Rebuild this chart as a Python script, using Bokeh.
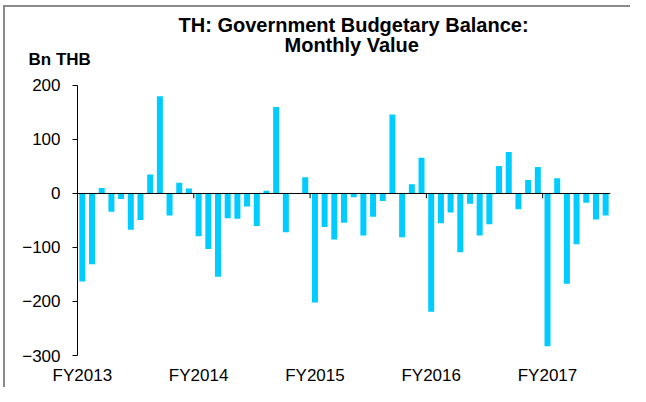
import numpy as np
import pandas as pd
from bokeh.plotting import figure
from bokeh.layouts import column
from bokeh.models import Range1d, FixedTicker, Span, Title
from bokeh.embed import file_html
from bokeh.resources import INLINE

# Monthly periods (Thai fiscal years start in October)
months = pd.date_range("2012-10-01", "2017-04-01", freq="MS")

# Government budgetary balance, Bn THB
balance = [-163, -131, 10, -34, -10, -67, -49, 35, 180, -41, 20, 9,
           -79, -103, -154, -46, -47, -24, -60, 5, 160, -72, 0, 30,
           -202, -62, -85, -54, -7, -78, -43, -14, 146, -81, 17, 66,
           -219, -55, -35, -109, -19, -78, -57, 51, 77, -29, 25, 49,
           -283, 28, -167, -94, -17, -48, -41]

fy_labels = ["FY2013", "FY2014", "FY2015", "FY2016", "FY2017"]
y_ticks = [200, 100, 0, -100, -200, -300]
y_min, y_max = -300, 200

title_line1 = "TH: Government Budgetary Balance:"
title_line2 = "Monthly Value"
unit_label = "Bn THB"

idx = np.arange(len(months))
fy_start = idx[months.month == 10]

FONT = "Liberation Sans"

# the frame reaches a little above the top tick so the titles can sit close to it
p = figure(width=625, height=380, output_backend="svg", toolbar_location=None,
           x_range=Range1d(0, len(months)), y_range=Range1d(y_min, 231.4),
           min_border_left=72, min_border_right=20, min_border_top=61,
           min_border_bottom=31)
p.outline_line_color = None
p.xgrid.visible = False
p.ygrid.visible = False
p.background_fill_color = "white"
p.border_fill_color = "white"

p.vbar(x=idx + 0.5, top=balance, bottom=0, width=0.62,
       fill_color="#00ccff", line_color=None)

# zero line
p.add_layout(Span(location=0, dimension="width", line_color="black", line_width=1))
# fiscal-year tick marks on the zero line
p.segment(x0=fy_start[1:], y0=0, x1=fy_start[1:], y1=-9, line_color="black", line_width=1)

# y axis
ya = p.yaxis[0]
ya.ticker = FixedTicker(ticks=y_ticks)
ya.bounds = (y_min, y_max)
ya.axis_line_color = "black"
ya.major_tick_line_color = "black"
ya.major_tick_in = 0
ya.major_tick_out = 5
ya.minor_tick_line_color = None
ya.major_label_standoff = 12
ya.major_label_text_font = FONT
ya.major_label_text_font_size = "17px"
ya.major_label_text_color = "black"

# x axis
xa = p.xaxis[0]
xa.ticker = FixedTicker(ticks=list(fy_start + 0.5))
xa.major_label_overrides = {float(t + 0.5): lab for t, lab in zip(fy_start, fy_labels)}
xa.axis_line_color = None
xa.major_tick_line_color = None
xa.minor_tick_line_color = None
xa.major_tick_out = 0
xa.major_label_standoff = 10
xa.major_label_text_font = FONT
xa.major_label_text_font_size = "17px"
xa.major_label_text_color = "black"

# unit label (closest to the frame)
p.add_layout(Title(text=unit_label, align="left", offset=-49, standoff=-1,
                   text_font=FONT, text_font_size="17px", text_font_style="bold",
                   text_color="black"), "above")
# title, second line
p.add_layout(Title(text=title_line2, align="left", offset=207, standoff=-15,
                   text_font=FONT, text_font_size="20px", text_font_style="bold",
                   text_color="black"), "above")
# title, first line
p.add_layout(Title(text=title_line1, align="left", offset=101, standoff=7,
                   text_font=FONT, text_font_size="20px", text_font_style="bold",
                   text_color="black"), "above")

layout = column(p, styles={"margin-left": "3px", "margin-top": "5px",
                           "border-left": "2px solid #8a8a8a",
                           "border-top": "2px solid #8a8a8a"})

open("out.html", "w").write(file_html(layout, INLINE))
